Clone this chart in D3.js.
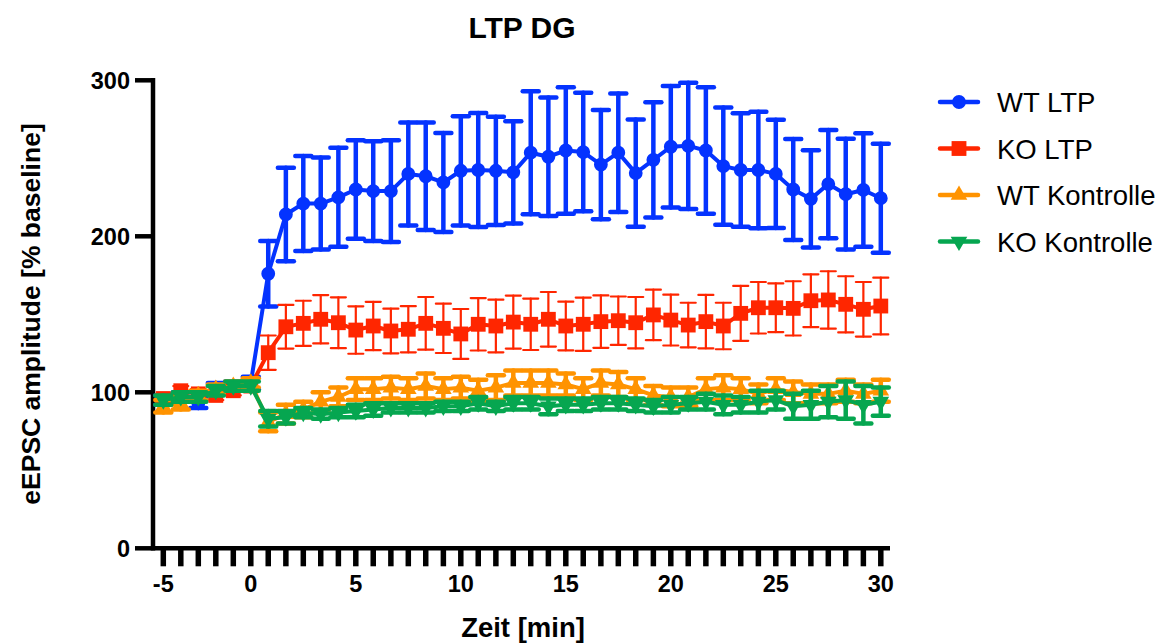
<!DOCTYPE html>
<html>
<head>
<meta charset="utf-8">
<script src="https://cdn.jsdelivr.net/npm/d3@7"></script>
<style>
  body { margin: 0; background: #fff; }
  svg { font-family: "Liberation Sans", Arial, sans-serif; }
</style>
</head>
<body>
<div id="chart"></div>
<script>
// time points [min]: baseline every 1 min, after induction every 50 s
const times = [-5, -4, -3, -2, -1, 0,
  0.83, 1.67, 2.5, 3.33, 4.17, 5, 5.83, 6.67, 7.5, 8.33, 9.17, 10,
  10.83, 11.67, 12.5, 13.33, 14.17, 15, 15.83, 16.67, 17.5, 18.33, 19.17, 20,
  20.83, 21.67, 22.5, 23.33, 24.17, 25, 25.83, 26.67, 27.5, 28.33, 29.17, 30];

const xTickLabels = [-5, 0, 5, 10, 15, 20, 25, 30];
const yTickLabels = [0, 100, 200, 300];

const seriesNames = ["WT LTP", "KO LTP", "WT Kontrolle", "KO Kontrolle"];

const wtLtpMean = [95, 97, 93, 103, 104, 106,
  176, 214, 221, 221, 225, 230, 229, 229, 240, 238.5, 234.5, 242, 242.5, 242, 241,
  253.6, 251, 255, 254, 246, 253.6, 240.5, 249, 257.4, 258, 255, 245, 242.5, 242.5,
  240, 230, 224, 233.5, 227, 229.7, 224.4];
const wtLtpSem = [3, 3, 3, 3, 3, 4,
  21, 30, 30.5, 29.5, 31.7, 31.5, 32, 32.6, 33, 34.4, 31.7, 35, 36.5, 34.7, 32.8,
  39.4, 38, 40.6, 38, 35, 38, 34.4, 37, 39, 40.5, 40.6, 37.6, 36.4, 37.4,
  34.7, 32.4, 31.2, 34.7, 35.5, 36.4, 35];

const koLtpMean = [96, 101, 99, 98, 101, 104,
  125.4, 142, 144.2, 146.8, 144.6, 139.9, 142.5, 139.3, 140.4, 144.2, 141, 137.4, 143.6, 142.5, 145,
  143.6, 146.8, 142.5, 143.6, 145.3, 145.9, 144.6, 149.6, 146.3, 143.1, 145.3, 142.5, 150.6, 154.2,
  154.2, 153.8, 158.7, 159.2, 156.4, 153.2, 155.3];
const koLtpSem = [3, 3, 3, 3, 3, 3,
  11, 14, 14.5, 15.5, 16.3, 15.2, 15.5, 14.3, 14.8, 16.9, 15.8, 16, 16.8, 16.9, 17,
  16.5, 17.5, 15.6, 17.1, 16.8, 15.5, 16.5, 16.2, 16.3, 14.3, 17.1, 14.9, 17.6, 16.5,
  15.6, 17.4, 16.9, 18.4, 18, 17.5, 18.2];

const wtKontrMean = [91, 93, 98, 102, 104, 106,
  81, 86, 89, 94, 97, 102, 102, 103, 102, 104, 102, 103, 101, 103, 106,
  106, 106, 105, 102, 106, 105, 102, 98, 97, 97, 102, 103, 102, 99,
  102, 100, 99, 99, 101, 99, 101];
const wtKontrSem = [4, 4, 3, 3, 3, 3,
  6, 6, 5, 6, 6, 7, 7, 7, 7, 8, 7, 7, 7, 8, 8,
  8, 8, 7, 7, 8, 8, 7, 6, 6, 6, 7, 8, 7, 6,
  7, 7, 6, 6, 7, 6, 7];

const koKontrMean = [95, 97, 97, 101, 104, 104,
  83, 84, 87, 86, 87, 88, 89, 90, 90, 90, 91, 91, 93, 91, 93,
  93, 91, 92, 92, 93, 93, 92, 91, 92, 93, 94, 92, 92, 94,
  95, 91, 92, 94, 95, 92, 94];
const koKontrSem = [3, 3, 3, 3, 3, 3,
  5, 4, 3, 3, 3, 4, 4, 3, 3, 3, 3, 3, 4, 3, 4,
  4, 5, 4, 4, 4, 4, 4, 4, 5, 4, 5, 6, 5, 7,
  6, 8, 9, 10, 12, 12, 9];

const width = 1173;
const height = 643;

const svg = d3.select("#chart").append("svg")
  .attr("width", width)
  .attr("height", height)
  .attr("viewBox", [0, 0, width, height]);

// x axis is drawn per sample (equal spacing), so the scale is piecewise
const x = d3.scaleLinear()
  .domain([-5, 0, 30])
  .range([163.3, 250.8, 880.8]);

const y = d3.scaleLinear()
  .domain([0, 300])
  .range([548.3, 80.3]);

const axisLeft = 153;
const axisRight = 890;

// axes
const xAxis = svg.append("g");
xAxis.append("line")
  .attr("x1", axisLeft).attr("x2", axisRight)
  .attr("y1", y(0)).attr("y2", y(0))
  .attr("stroke", "#000").attr("stroke-width", 4.5);
xAxis.selectAll(".minor")
  .data(times)
  .join("line")
  .attr("x1", d => x(d)).attr("x2", d => x(d))
  .attr("y1", y(0)).attr("y2", y(0) + 18)
  .attr("stroke", "#000").attr("stroke-width", 5.5);
xAxis.selectAll("text")
  .data(xTickLabels)
  .join("text")
  .attr("x", d => x(d))
  .attr("y", 592)
  .attr("text-anchor", "middle")
  .attr("font-size", 23.5)
  .attr("font-weight", "bold")
  .text(d => d);

const yAxis = svg.append("g");
yAxis.append("line")
  .attr("x1", axisLeft).attr("x2", axisLeft)
  .attr("y1", y(300) - 2.2).attr("y2", y(0) + 2.2)
  .attr("stroke", "#000").attr("stroke-width", 4.5);
yAxis.selectAll(".tick")
  .data(yTickLabels)
  .join("line")
  .attr("x1", axisLeft - 18).attr("x2", axisLeft)
  .attr("y1", d => y(d)).attr("y2", d => y(d))
  .attr("stroke", "#000").attr("stroke-width", 4.5);
yAxis.selectAll("text")
  .data(yTickLabels)
  .join("text")
  .attr("x", 130)
  .attr("y", d => y(d) + 8.5)
  .attr("text-anchor", "end")
  .attr("font-size", 23.5)
  .attr("font-weight", "bold")
  .text(d => d);

// titles
svg.append("text")
  .attr("x", 522).attr("y", 38)
  .attr("text-anchor", "middle")
  .attr("font-size", 30).attr("font-weight", "bold")
  .text("LTP DG");

svg.append("text")
  .attr("x", 523).attr("y", 637)
  .attr("text-anchor", "middle")
  .attr("font-size", 27.5).attr("font-weight", "bold")
  .text("Zeit [min]");

svg.append("text")
  .attr("transform", "translate(40,314) rotate(-90)")
  .attr("text-anchor", "middle")
  .attr("font-size", 26.5).attr("font-weight", "bold")
  .text("eEPSC amplitude [% baseline]");

// series
const series = [
  { name: seriesNames[0], mean: wtLtpMean, sem: wtLtpSem, color: "#0433ff",
    symbol: d3.symbolCircle, size: 150, rot: 0, lw: 4, ew: 4.5, cap: 16 },
  { name: seriesNames[1], mean: koLtpMean, sem: koLtpSem, color: "#ff2600",
    symbol: d3.symbolSquare, size: 220, rot: 0, lw: 4, ew: 2.2, cap: 15 },
  { name: seriesNames[2], mean: wtKontrMean, sem: wtKontrSem, color: "#ff9300",
    symbol: d3.symbolTriangle, size: 120, rot: 0, lw: 4, ew: 4.5, cap: 16 },
  { name: seriesNames[3], mean: koKontrMean, sem: koKontrSem, color: "#06a650",
    symbol: d3.symbolTriangle, size: 120, rot: 180, lw: 4, ew: 4.5, cap: 16 }
];

const line = d3.line()
  .x(d => x(d.t))
  .y(d => y(d.v));

series.forEach(s => {
  const pts = times.map((t, i) => ({ t, v: s.mean[i], e: s.sem[i] }));
  const g = svg.append("g");

  const bars = g.append("g")
    .attr("stroke", s.color)
    .attr("stroke-width", s.ew)
    .attr("stroke-linecap", "round");
  bars.selectAll(".v")
    .data(pts)
    .join("line")
    .attr("x1", d => x(d.t)).attr("x2", d => x(d.t))
    .attr("y1", d => y(d.v - d.e)).attr("y2", d => y(d.v + d.e));
  bars.selectAll(".top")
    .data(pts)
    .join("line").attr("class", "top")
    .attr("x1", d => x(d.t) - s.cap / 2).attr("x2", d => x(d.t) + s.cap / 2)
    .attr("y1", d => y(d.v + d.e)).attr("y2", d => y(d.v + d.e));
  bars.selectAll(".bot")
    .data(pts)
    .join("line").attr("class", "bot")
    .attr("x1", d => x(d.t) - s.cap / 2).attr("x2", d => x(d.t) + s.cap / 2)
    .attr("y1", d => y(d.v - d.e)).attr("y2", d => y(d.v - d.e));

  g.append("path")
    .datum(pts)
    .attr("fill", "none")
    .attr("stroke", s.color)
    .attr("stroke-width", s.lw)
    .attr("stroke-linejoin", "round")
    .attr("d", line);

  g.selectAll(".pt")
    .data(pts)
    .join("path")
    .attr("transform", d => `translate(${x(d.t)},${y(d.v)}) rotate(${s.rot})`)
    .attr("fill", s.color)
    .attr("d", d3.symbol(s.symbol, s.size));
});

// legend
const legend = svg.append("g");
series.forEach((s, i) => {
  const ly = 102 + i * 46.5;
  legend.append("line")
    .attr("x1", 940).attr("x2", 978)
    .attr("y1", ly).attr("y2", ly)
    .attr("stroke", s.color).attr("stroke-width", 4.5)
    .attr("stroke-linecap", "round");
  legend.append("path")
    .attr("transform", `translate(959,${ly}) rotate(${s.rot})`)
    .attr("fill", s.color)
    .attr("d", d3.symbol(s.symbol, s.size)());
  legend.append("text")
    .attr("x", 997).attr("y", ly + 10)
    .attr("font-size", 27.5)
    .text(s.name);
});
</script>
</body>
</html>
